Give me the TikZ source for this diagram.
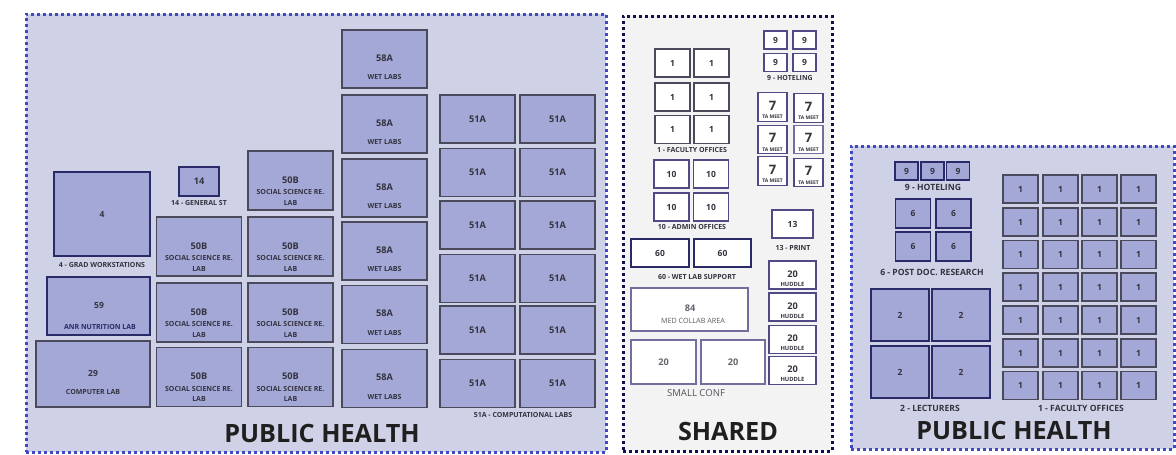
\documentclass[tikz,border=0pt]{standalone}
\usepackage{fontspec}
\setmainfont{Open Sans}
\definecolor{roomfill}{HTML}{A4A8D6}
\definecolor{phfill}{HTML}{CFD2E7}
\definecolor{phdots}{HTML}{4048C4}
\definecolor{shfill}{HTML}{F3F3F3}
\definecolor{shdots}{HTML}{10104F}
\definecolor{greyline}{HTML}{4A4A5C}
\definecolor{navyline}{HTML}{2A2A68}
\definecolor{purpline}{HTML}{4F4A85}
\definecolor{inktxt}{HTML}{33333F}
\tikzset{
    wh/.style 2 args={minimum width=#1pt, minimum height=#2pt},
    panel/.style={rectangle, inner sep=0pt, outer sep=0pt, line width=3pt, dash pattern=on 3pt off 3pt},
    phpanel/.style={panel, draw=phdots, fill=phfill},
    shpanel/.style={panel, draw=shdots, fill=shfill},
    room/.style={rectangle, inner sep=0pt, outer sep=0pt, line width=1.15pt, text=inktxt, font=\fontsize{9.2}{10}\selectfont\bfseries},
    greyroom/.style={room, draw=greyline, fill=roomfill},
    navyroom/.style={room, draw=navyline, fill=roomfill},
    whiteroom/.style={room, draw=purpline, fill=white},
    palerooom/.style={room, draw=purpline!80, fill=white, text=inktxt!75},
    numtxt/.style={inner sep=0pt, text=inktxt, font=\fontsize{9.2}{10}\selectfont\bfseries},
    subtxt/.style={inner sep=0pt, align=center, text=inktxt, font=\fontsize{7}{10.5}\selectfont\bfseries},
    bigtxt/.style={subtxt, font=\fontsize{8.6}{9}\selectfont\bfseries},
    tatxt/.style={inner sep=0pt, text=inktxt, font=\fontsize{5}{5}\selectfont\bfseries},
    smallnum/.style={font=\fontsize{8.5}{9}\selectfont\bfseries},
    title/.style={inner sep=0pt, text=black!88, font=\fontsize{25.2}{26}\selectfont\bfseries}
}
\begin{document}
\begin{tikzpicture}[x=1pt, y=-1pt]
    \useasboundingbox (0,0) rectangle (1176,455);

    % Panels
    \node[phpanel, wh={580}{438}] (healthA) at (316,233) {};
    \node[shpanel, wh={209}{435}] (shared) at (727.5,233.5) {};
    \node[phpanel, wh={323}{303}] (healthB) at (1012.5,297.5) {};

    % Public health, left block
    \node[navyroom, smallnum, wh={96}{84}] (grad) at (102,214) {4};
    \node[subtxt] (gradlbl) at (102,265) {4 - GRAD WORKSTATIONS};
    \node[navyroom, wh={40}{29}] (gen) at (199,181.5) {14};
    \node[subtxt] (genlbl) at (199,203) {14 - GENERAL ST};
    \node[navyroom, wh={103}{58}] (anr) at (98.5,306) {};
    \node[numtxt, smallnum] (anrnum) at (99,305) {59};
    \node[subtxt, text=navyline] (anrlbl) at (100,327) {ANR NUTRITION LAB};
    \node[greyroom, wh={114}{66}] (comp) at (93,374) {};
    \node[numtxt, smallnum] (compnum) at (93,373) {29};
    \node[subtxt] (complbl) at (93,392) {COMPUTER LAB};

    % Social science labs
    \foreach \cx/\cy/\nm in {199/246.5/a, 199/312.5/b, 199/377/c, 290.5/180.5/d, 290.5/246.5/e, 290.5/312.5/f, 290.5/377/g} {
        \node[greyroom, wh={85}{59}] (soc\nm) at (\cx,\cy) {};
        \node[numtxt] (soc\nm num) at ([yshift=0.5pt]soc\nm.center) {50B};
        \node[subtxt] (soc\nm lbl) at ([yshift=-17pt]soc\nm.center) {SOCIAL SCIENCE RE.\\LAB};
    }

    % Wet labs
    \foreach \cy [count=\r] in {59,124,188,251,314.5,378.5} {
        \node[greyroom, wh={85}{58}] (wet\r) at (384.5,\cy) {};
        \node[numtxt] (wet\r num) at ([yshift=1pt]wet\r.center) {58A};
        \node[subtxt] (wet\r lbl) at ([yshift=-18pt]wet\r.center) {WET LABS};
    }

    % Computational labs
    \foreach \cy [count=\r] in {119,172.5,225,278.5,330,383.5} {
        \foreach \cx [count=\c] in {477.5,557.5} {
            \node[greyroom, wh={75}{48}] (comp\r-\c) at (\cx,\cy) {51A};
        }
    }
    \node[subtxt] (complabs) at (523,415) {51A - COMPUTATIONAL LABS};
    \node[title] (titleA) at (322,433) {PUBLIC HEALTH};

    % Shared, offices
    \foreach \cy [count=\r] in {63,97,129.5} {
        \foreach \cx [count=\c] in {672.5,711.5} {
            \node[whiteroom, smallnum, draw=greyline, wh={35}{28}] (sfac\r-\c) at (\cx,\cy) {1};
        }
    }
    \node[subtxt] (sfaclbl) at (692,150) {1 - FACULTY OFFICES};
    \foreach \cy [count=\r] in {174,207} {
        \foreach \cx [count=\c] in {671.5,711} {
            \node[whiteroom, smallnum, wh={35}{28}] (adm\r-\c) at (\cx,\cy) {10};
        }
    }
    \node[subtxt] (admlbl) at (692,227) {10 - ADMIN OFFICES};

    % Shared, hoteling and TA rooms
    \foreach \cy [count=\r] in {40,62.5} {
        \foreach \cx [count=\c] in {775.5,804.5} {
            \node[whiteroom, smallnum, wh={23}{18}] (shot\r-\c) at (\cx,\cy) {9};
        }
    }
    \node[subtxt] (shotlbl) at (790,78) {9 - HOTELING};
    \foreach \cx/\cy/\nm/\sty in {772.5/107/a/whiteroom, 772.5/139.5/b/whiteroom, 772.5/171/c/whiteroom, 808.5/108/d/whiteroom, 808.5/139.5/e/palerooom, 808.5/172.5/f/whiteroom} {
        \node[\sty, wh={29}{28.5}] (ta\nm) at (\cx,\cy) {};
        \node[numtxt, font=\fontsize{13}{13}\selectfont\bfseries] (ta\nm num) at ([yshift=1.5pt]ta\nm.center) {7};
        \node[tatxt] (ta\nm lbl) at ([yshift=-10pt]ta\nm.center) {TA MEET};
    }
    \node[whiteroom, smallnum, wh={41}{28}] (print) at (792.5,224) {13};
    \node[subtxt] (printlbl) at (793,248) {13 - PRINT};

    % Shared, wet lab support and conference
    \node[whiteroom, smallnum, draw=navyline, wh={58}{28}] (sup1) at (660,253) {60};
    \node[whiteroom, smallnum, draw=navyline, wh={57}{28}] (sup2) at (722.5,253) {60};
    \node[subtxt] (suplbl) at (697,277) {60 - WET LAB SUPPORT};
    \node[palerooom, wh={117}{43}] (med) at (689.5,309.5) {};
    \node[numtxt, text=inktxt!75] (mednum) at (690,308) {84};
    \node[subtxt, text=inktxt!80, font=\fontsize{7.2}{8}\selectfont] (medlbl) at (693,321) {MED COLLAB AREA};
    \node[palerooom, wh={65}{44}] (conf1) at (663.5,362) {20};
    \node[palerooom, wh={64}{44}] (conf2) at (733,362) {20};
    \node[subtxt, text=inktxt!85, font=\fontsize{9.6}{10}\selectfont] (conflbl) at (696,393) {SMALL CONF};
    \foreach \cy [count=\r] in {275,307,339.5,370.5} {
        \node[whiteroom, wh={47}{28}] (hud\r) at (792.5,\cy) {};
        \node[numtxt] (hud\r num) at ([yshift=1pt]hud\r.center) {20};
        \node[subtxt, font=\fontsize{5.8}{6}\selectfont\bfseries] (hud\r lbl) at ([yshift=-9pt]hud\r.center) {HUDDLE};
    }
    \node[title] (titleS) at (728,431) {SHARED};

    % Public health, right block
    \foreach \cx [count=\c] in {906.5,932.5,958} {
        \node[navyroom, smallnum, wh={23}{18}] (phot\c) at (\cx,171) {9};
    }
    \node[bigtxt] (photlbl) at (933,187) {9 - HOTELING};
    \foreach \cy [count=\r] in {213.5,246.5} {
        \foreach \cx [count=\c] in {913,953.5} {
            \node[navyroom, smallnum, wh={35}{29}] (doc\r-\c) at (\cx,\cy) {6};
        }
    }
    \node[bigtxt] (doclbl) at (932,272) {6 - POST DOC. RESEARCH};
    \foreach \cy [count=\r] in {315,372} {
        \foreach \cx [count=\c] in {900,961} {
            \node[navyroom, smallnum, wh={58}{52}] (lec\r-\c) at (\cx,\cy) {2};
        }
    }
    \node[bigtxt] (leclbl) at (930,408) {2 - LECTURERS};
    \foreach \cy [count=\r] in {189,222,254.5,287,320,353,385.5} {
        \foreach \cx [count=\c] in {1020.5,1060.5,1099.5,1138.5} {
            \node[greyroom, smallnum, wh={35}{28}] (fac\r-\c) at (\cx,\cy) {1};
        }
    }
    \node[bigtxt] (faclbl) at (1081,408) {1 - FACULTY OFFICES};
    \node[title] (titleB) at (1014,430) {PUBLIC HEALTH};
\end{tikzpicture}
\end{document}
